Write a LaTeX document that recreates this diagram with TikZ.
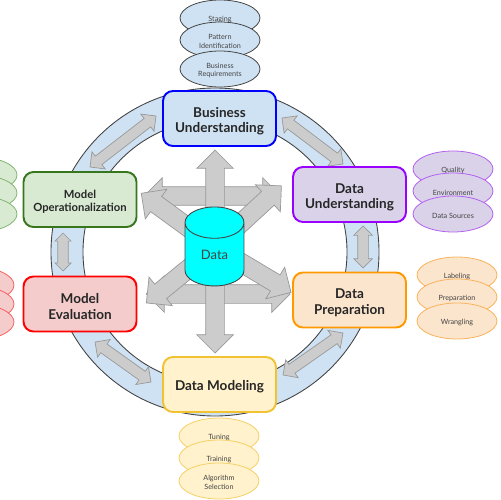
\documentclass[tikz,border=0pt]{standalone}
\usepackage{fontspec}
\setmainfont{Lato}
\usetikzlibrary{calc,shapes.geometric,shapes.arrows}
\definecolor{ringblue}{HTML}{CFE2F3}
\definecolor{arrowgray}{HTML}{CCCCCC}
\definecolor{arrowedge}{HTML}{999999}
\definecolor{inkgray}{HTML}{434343}
\definecolor{drumcyan}{HTML}{00FFFF}
\definecolor{purpleedge}{HTML}{9900FF}
\definecolor{purplefill}{HTML}{D9D2E9}
\definecolor{purplesub}{HTML}{B45FF0}
\definecolor{orangeedge}{HTML}{FF9900}
\definecolor{orangefill}{HTML}{FCE5CD}
\definecolor{orangesub}{HTML}{F9B25A}
\definecolor{yellowedge}{HTML}{F1C232}
\definecolor{yellowfill}{HTML}{FFF2CC}
\definecolor{yellowsub}{HTML}{F5D064}
\definecolor{redfill}{HTML}{F4CCCC}
\definecolor{redsub}{HTML}{FA5F5F}
\definecolor{greenedge}{HTML}{38761D}
\definecolor{greenfill}{HTML}{D9EAD3}
\definecolor{greensub}{HTML}{82B46E}
\newcommand{\lift}{\rule{0pt}{1.12em}}
\newcommand{\bigarrow}[3]{%
  \path let \p1=($(#2)-(#1)$), \n1={atan2(\y1,\x1)}, \n2={veclen(\x1,\y1)} in
    node[#3, rotate=\n1, minimum height=\n2] at ($(#1)!0.5!(#2)$) {};}
\begin{document}
\begin{tikzpicture}[x=0.02cm,y=-0.02cm,
  stagebox/.style={draw=#1, rounded corners=0.2cm, line width=1.1pt, minimum width=2.26cm, minimum height=1.1cm,
    align=center, font=\fontsize{7.7}{8.6}\selectfont\bfseries, text=black!85},
  sub/.style={ellipse, draw=#1, line width=0.45pt, minimum width=1.6cm, minimum height=0.72cm, inner sep=0pt,
    align=center, font=\fontsize{4.1}{5}\selectfont, text=inkgray},
  ringarrow/.style={double arrow, draw=arrowedge, fill=arrowgray, line width=0.4pt, inner sep=0pt,
    text height=0.2cm, text depth=0pt, text width=0pt, minimum width=0.42cm, double arrow head extend=0.11cm},
  hubdouble/.style={double arrow, draw=arrowedge, fill=arrowgray, line width=0.4pt, inner sep=0pt,
    text height=0.36cm, text depth=0pt, text width=0pt, minimum width=0.72cm, double arrow head extend=0.18cm},
  hubsingle/.style={single arrow, draw=arrowedge, fill=arrowgray, line width=0.4pt, inner sep=0pt,
    text height=0.36cm, text depth=0pt, text width=0pt, minimum width=0.72cm, single arrow head extend=0.18cm}]
\clip (0,0) rectangle (500,500);
% ==================== RING ====================
\draw[fill=ringblue, even odd rule, draw=inkgray, line width=0.5pt] (215,252) circle[radius=164] (215,252) circle[radius=132];
% ==================== RING ARROWS ====================
\coordinate (op1) at (90,167);
\coordinate (op2) at (156,116);
\coordinate (bu1) at (282,118);
\coordinate (bu2) at (343,164);
\coordinate (du1) at (363,226);
\coordinate (du2) at (363,268);
\coordinate (dp1) at (343,333);
\coordinate (dp2) at (283,375);
\coordinate (dm1) at (151,382);
\coordinate (dm2) at (95,342);
\coordinate (me1) at (63,271);
\coordinate (me2) at (63,233);
\bigarrow{op1}{op2}{ringarrow}
\bigarrow{bu1}{bu2}{ringarrow}
\bigarrow{du1}{du2}{ringarrow, minimum width=0.36cm, double arrow head extend=0.08cm}
\bigarrow{dp1}{dp2}{ringarrow}
\bigarrow{dm1}{dm2}{ringarrow}
\bigarrow{me1}{me2}{ringarrow, minimum width=0.31cm, double arrow head extend=0.055cm}
% ==================== STAGES ====================
\node[stagebox=blue, fill=ringblue] (business) at (219.5,118.5) {\lift Business\\Understanding};
\node[stagebox=purpleedge, fill=purplefill] (understanding) at (349.5,194.5) {\lift Data\\Understanding};
\node[stagebox=orangeedge, fill=orangefill] (preparation) at (349.5,300) {\lift Data\\Preparation};
\node[stagebox=yellowedge, fill=yellowfill] (modeling) at (219.5,384.5) {\lift Data Modeling};
\node[stagebox=red, fill=redfill] (evaluation) at (80,304) {\lift Model\\Evaluation};
\node[stagebox=greenedge, fill=greenfill, font=\fontsize{6.4}{7.5}\selectfont\bfseries] (operation) at (80,199.5) {\lift Model\\Operationalization};
% ==================== SUB TASKS ====================
% Business
\node[sub=inkgray, fill=ringblue] (staging) at (220,18) {\lift Staging};
\node[sub=inkgray, fill=ringblue] (pattern) at (220,40) {\lift Pattern\\Identification};
\node[sub=inkgray, fill=ringblue] (requirements) at (220,69) {\lift Business\\Requirements};
% Understanding
\node[sub=purplesub, fill=purplefill] (quality) at (453,169) {\lift Quality};
\node[sub=purplesub, fill=purplefill] (environment) at (453,191) {\lift Environment};
\node[sub=purplesub, fill=purplefill] (sources) at (453,214) {\lift Data Sources};
% Preparation
\node[sub=orangesub, fill=orangefill] (labeling) at (457,275) {\lift Labeling};
\node[sub=orangesub, fill=orangefill] (prep) at (457,297) {\lift Preparation};
\node[sub=orangesub, fill=orangefill] (wrangling) at (457,321) {\lift Wrangling};
% Modeling
\node[sub=yellowsub, fill=yellowfill] (tuning) at (219,436) {\lift Tuning};
\node[sub=yellowsub, fill=yellowfill] (training) at (219,458) {\lift Training};
\node[sub=yellowsub, fill=yellowfill] (algorithm) at (219,481) {\lift Algorithm\\Selection};
% Evaluation and operationalization, cut by the page edge
\node[sub=redsub, fill=redfill] (evalA) at (-26,285) {};
\node[sub=redsub, fill=redfill] (evalB) at (-26,304) {};
\node[sub=redsub, fill=redfill] (evalC) at (-26,322) {};
\node[sub=greensub, fill=greenfill] (opA) at (-23,175) {};
\node[sub=greensub, fill=greenfill] (opB) at (-23,193) {};
\node[sub=greensub, fill=greenfill] (opC) at (-23,214) {};
% ==================== CENTRE ====================
\coordinate (hub) at (215,247);
\coordinate (upW) at (144,196);
\coordinate (upE) at (281,196);
\coordinate (lowW) at (146,294);
\coordinate (lowE) at (290,294);
\coordinate (north) at (215,150);
\coordinate (south) at (215,353);
\coordinate (tipNW) at (145,196);
\coordinate (tipNE) at (278,189);
\coordinate (tipSE) at (287,290);
\coordinate (tipSW) at (150,300);
\bigarrow{upW}{upE}{hubdouble}
\bigarrow{lowW}{lowE}{hubdouble}
\bigarrow{north}{south}{hubdouble}
\bigarrow{hub}{tipNW}{hubsingle}
\bigarrow{hub}{tipNE}{hubsingle}
\bigarrow{hub}{tipSE}{hubsingle}
\bigarrow{hub}{tipSW}{hubsingle}
\node[cylinder, shape border rotate=90, aspect=1.15, draw=inkgray, line width=0.5pt, cylinder uses custom fill,
  cylinder body fill=drumcyan, cylinder end fill=drumcyan, minimum width=1.18cm, minimum height=1.58cm, inner sep=0pt,
  font=\fontsize{7.4}{8}\selectfont, text=inkgray] (data) at (214.5,254.5) {Data};
\end{tikzpicture}
\end{document}
